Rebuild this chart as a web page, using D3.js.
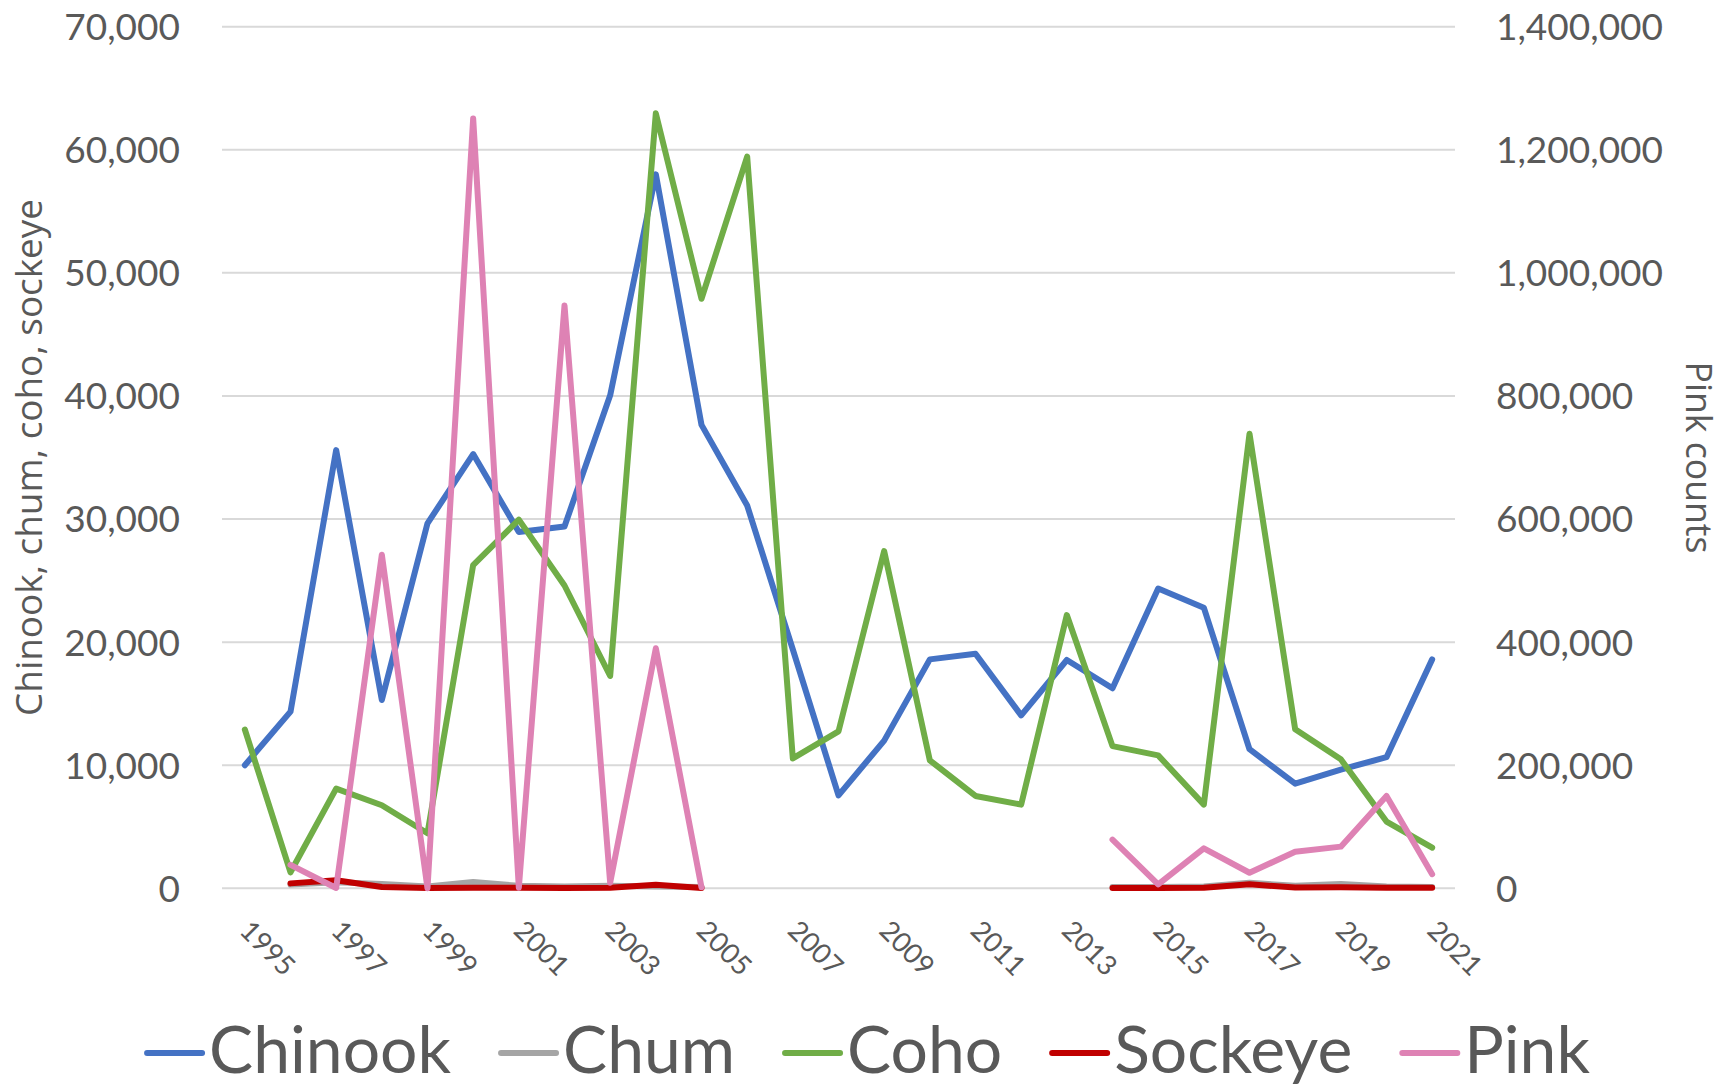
<!DOCTYPE html>
<html><head><meta charset="utf-8">
<script src="https://cdn.jsdelivr.net/npm/d3@7"></script>
<style>body{margin:0;background:#fff}</style>
</head><body>
<svg id="c" width="1724" height="1087"></svg>
<script>
const years = [1995,1996,1997,1998,1999,2000,2001,2002,2003,2004,2005,2006,2007,2008,2009,2010,2011,2012,2013,2014,2015,2016,2017,2018,2019,2020,2021];
const chinook = [10000,14350,35600,15300,29650,35280,28950,29400,40050,58000,37650,31100,19400,7550,12000,18600,19050,14050,18550,16250,24350,22800,11300,8500,9650,10650,18600];
const chum = [null,300,500,350,150,520,200,150,200,150,100,null,null,null,null,null,null,null,null,100,100,150,450,200,350,150,100];
const coho = [12900,1300,8100,6750,4470,26260,29950,24600,17250,62960,47900,59450,10550,12750,27400,10400,7500,6800,22200,11550,10800,6800,36930,12920,10480,5420,3300];
const sockeye = [null,400,650,100,30,40,50,30,40,280,20,null,null,null,null,null,null,null,null,30,30,50,320,60,80,40,40];
const pink = [null,38000,500,542000,0,1251000,1000,947000,9000,390000,1600,null,null,null,null,null,null,null,null,79000,6500,65000,25300,59300,67700,150000,23000];
const leftTicks = [0,10000,20000,30000,40000,50000,60000,70000];
const rightTicks = [0,200000,400000,600000,800000,1000000,1200000,1400000];
const xLabels = [1995,1997,1999,2001,2003,2005,2007,2009,2011,2013,2015,2017,2019,2021];
const seriesNames = ["Chinook","Chum","Coho","Sockeye","Pink"];
const seriesColors = ["#4472C4","#A5A5A5","#70AD47","#C00000","#DE82B4"];
const leftTitle = "Chinook, chum, coho, sockeye";
const rightTitle = "Pink counts";

const svg = d3.select("#c");
const L = 222, R = 1455, T = 26.7, B = 888.3;
const x = d3.scalePoint().domain(years).range([L, R]).padding(0.5);
const yL = d3.scaleLinear().domain([0,70000]).range([B, T]);
const yR = d3.scaleLinear().domain([0,1400000]).range([B, T]);
const fmt = d3.format(",");
const txt = "#595959";

// gridlines
svg.append("g").selectAll("line").data(leftTicks).join("line")
  .attr("x1", L).attr("x2", R).attr("y1", d=>yL(d)).attr("y2", d=>yL(d))
  .attr("stroke", "#D9D9D9").attr("stroke-width", 2);

// left axis labels
const gl = svg.append("g").attr("transform", `translate(180,0)`)
  .call(d3.axisLeft(yL).tickValues(leftTicks).tickFormat(fmt).tickSize(0).tickPadding(0));
gl.select(".domain").remove();
gl.selectAll("text").attr("font-family","Lato").attr("font-size",37).attr("fill",txt).attr("dy","0.35em");

// right axis labels
const gr = svg.append("g").attr("transform", `translate(1496,0)`)
  .call(d3.axisRight(yR).tickValues(rightTicks).tickFormat(fmt).tickSize(0).tickPadding(0));
gr.select(".domain").remove();
gr.selectAll("text").attr("font-family","Lato").attr("font-size",37).attr("fill",txt).attr("dy","0.35em");

// x labels
const gx = svg.append("g").attr("transform", `translate(0,${B})`)
  .call(d3.axisBottom(x).tickValues(xLabels).tickSize(0).tickPadding(0));
gx.select(".domain").remove();
gx.selectAll("text")
  .attr("font-family","Lato").attr("font-size",27.5).attr("fill",txt)
  .attr("text-anchor","start").attr("dy",null).attr("y",null)
  .attr("transform","translate(-7,44) rotate(45)");

// axis titles
function fitText(sel, target) {
  const w = sel.node().getComputedTextLength();
  const fs = parseFloat(sel.attr("font-size"));
  sel.attr("font-size", fs * target / w);
}
const lt = svg.append("text").text(leftTitle)
  .attr("font-family","Open Sans").attr("font-size",36).attr("fill",txt)
  .attr("text-anchor","middle").attr("transform",`translate(42,${(T+B)/2}) rotate(-90)`);
fitText(lt, 517);
const rt = svg.append("text").text(rightTitle)
  .attr("font-family","Open Sans").attr("font-size",36).attr("fill",txt)
  .attr("text-anchor","middle").attr("transform",`translate(1686,${(T+B)/2}) rotate(90)`);
fitText(rt, 192);

// lines
const leftSeries = [chinook, chum, coho, sockeye];
const lineL = d3.line().defined(d=>d!=null).x((d,i)=>x(years[i])).y(d=>yL(d));
const lineR = d3.line().defined(d=>d!=null).x((d,i)=>x(years[i])).y(d=>yR(d));
const gLines = svg.append("g").attr("fill","none").attr("stroke-width",6)
  .attr("stroke-linejoin","round").attr("stroke-linecap","round");
leftSeries.forEach((s,k)=>{
  gLines.append("path").attr("d", lineL(s)).attr("stroke", seriesColors[k]);
});
gLines.append("path").attr("d", lineR(pink)).attr("stroke", seriesColors[4]);

// legend
const leg = svg.append("g");
const items = seriesNames.map((n,i)=>{
  const g = leg.append("g");
  g.append("line").attr("x1",0).attr("x2",55).attr("y1",0).attr("y2",0)
    .attr("stroke",seriesColors[i]).attr("stroke-width",6).attr("stroke-linecap","round");
  const t = g.append("text").text(n).attr("x",62).attr("y",20)
    .attr("font-family","Lato").attr("font-size",66).attr("fill",txt);
  return {g,t};
});
const w0 = items[0].t.node().getComputedTextLength();
const lfs = 66*242/w0;
items.forEach(it=>it.t.attr("font-size",lfs));
const widths = items.map(it=>62+it.t.node().getComputedTextLength());
const gap = 50;
const total = d3.sum(widths) + gap*(widths.length-1);
let cx = 868.5 - total/2;
items.forEach((it,i)=>{ it.g.attr("transform",`translate(${cx},1053)`); cx += widths[i]+gap; });
</script>
</body></html>
